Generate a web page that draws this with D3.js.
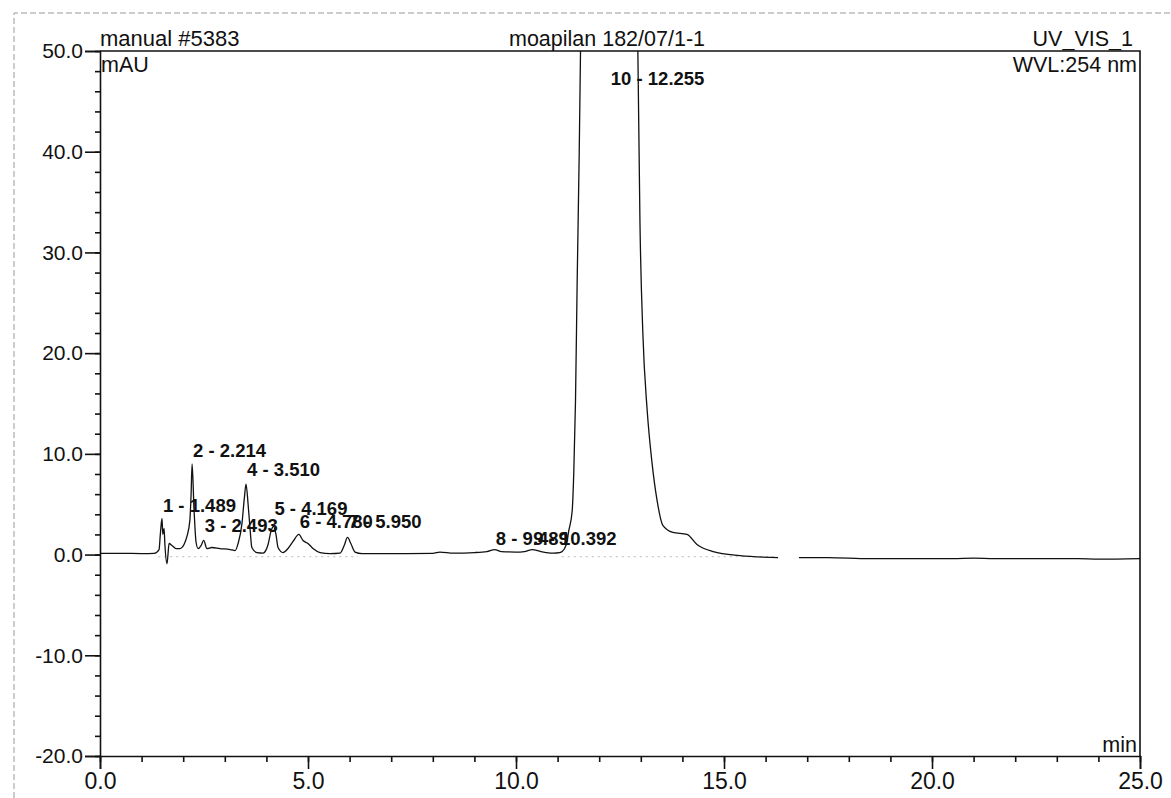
<!DOCTYPE html>
<html>
<head>
<meta charset="utf-8">
<script src="https://cdn.jsdelivr.net/npm/d3@7"></script>
<style>
  body { margin: 0; background: #fff; }
  svg { display: block; font-family: "Liberation Sans", Arial, sans-serif; }
</style>
</head>
<body>
<div id="chart"></div>
<script>
// Data
// chromatogram trace: retention time (min) and signal (mAU)
const traceTime = [
  0.0, 0.5, 1.0, 1.3, 1.42, 1.45, 1.49, 1.51, 1.54, 1.56, 1.61, 1.63, 1.66, 1.73, 1.83, 1.92,
  2.02, 2.09, 2.16, 2.19, 2.214, 2.26, 2.31, 2.36, 2.43, 2.493, 2.57, 2.69, 2.88, 3.13, 3.25,
  3.32, 3.41, 3.47, 3.51, 3.56, 3.61, 3.65, 3.77, 3.92, 4.04, 4.11, 4.169, 4.23, 4.28, 4.40,
  4.52, 4.64, 4.78, 4.88, 5.0, 5.12, 5.29, 5.53, 5.77, 5.87, 5.95, 6.03, 6.13, 6.3,
  7.0, 8.0, 8.17, 8.5, 9.0, 9.3, 9.489, 9.65, 10.0, 10.2, 10.392, 10.6, 10.9, 11.05,
  11.11, 11.2, 11.27, 11.35, 11.39, 11.43, 11.47, 11.52, 11.55, 11.62, 12.255, 12.88,
  12.93, 12.98, 13.05, 13.15, 13.27, 13.39, 13.53, 13.77, 14.11, 14.35, 14.74, 15.38, 16.3,
  16.5, 16.8, 17.5, 18.5, 20.5, 21.0, 21.5, 23.5, 24.0, 25.0
];
const traceMAU = [
  0.12, 0.12, 0.1, 0.12, 0.5, 2.0, 3.6, 2.0, 2.6, 1.0, -0.9, -0.2, 1.1, 0.9, 0.6, 0.6,
  1.0, 1.8, 3.4, 6.0, 9.0, 4.5, 1.2, 0.6, 0.9, 1.4, 0.6, 0.7, 0.6, 0.5, 0.4,
  1.1, 3.0, 5.6, 7.0, 5.0, 2.4, 0.7, 0.2, 0.15, 1.0, 2.3, 2.8, 2.0, 0.7, 0.2,
  0.6, 1.3, 2.0, 1.4, 1.1, 0.6, 0.2, 0.1, 0.15, 0.9, 1.7, 1.1, 0.25, 0.1,
  0.1, 0.12, 0.25, 0.15, 0.2, 0.3, 0.5, 0.3, 0.25, 0.3, 0.5, 0.3, 0.15, 0.2,
  0.3, 0.9, 2.4, 4.3, 8.3, 15.2, 27, 40, 49.7, 80, 260, 80,
  49.7, 32.9, 21.9, 14.5, 9.1, 5.4, 2.9, 2.2, 2.0, 1.0, 0.3, -0.1, -0.3,
  null, -0.3, -0.3, -0.4, -0.4, -0.35, -0.4, -0.4, -0.45, -0.4
];

// peak annotations
const peakNo = [1, 2, 3, 4, 5, 6, 7, 8, 9, 10];
const peakRT = ["1.489", "2.214", "2.493", "3.510", "4.169", "4.780", "5.950", "9.489", "10.392", "12.255"];
const peakLabelMAU = [4.2, 9.7, 2.25, 7.8, 3.9, 2.65, 2.65, 0.95, 0.95, 46.6];

// integration baselines (start, end in min)
const baseStart = [1.4, 3.3, 11.1];
const baseEnd = [2.6, 6.2, 16.3];

// axis ticks
const xMajor = [0, 5, 10, 15, 20, 25];
const xMinor = d3.range(0, 26, 1);
const yMajor = [-20, -10, 0, 10, 20, 30, 40, 50];
const yMinor = d3.range(-20, 52, 2);

// Set up the SVG
const W = 1171, H = 798;
const margin = { top: 51, right: 31, bottom: 42, left: 100 };
const width = W - margin.left - margin.right;
const height = H - margin.top - margin.bottom;

const svg = d3.select("#chart").append("svg")
  .attr("width", W)
  .attr("height", H);

// faint scan border
svg.append("path")
  .attr("d", `M14,${H} L14,13 L${W},13`)
  .attr("fill", "none")
  .attr("stroke", "#999")
  .attr("stroke-width", 1)
  .attr("stroke-dasharray", "6,3");

const g = svg.append("g")
  .attr("transform", `translate(${margin.left},${margin.top})`);

// Scales
const x = d3.scaleLinear().domain([0, 25]).range([0, width]);
const y = d3.scaleLinear().domain([-20, 50]).range([height, 0]);

g.append("clipPath").attr("id", "plotclip")
  .append("rect").attr("x", 0).attr("y", 0).attr("width", width).attr("height", height);

// integration baselines
g.selectAll(".ibase")
  .data(baseStart.map((s, i) => [s, baseEnd[i]]))
  .enter().append("line")
  .attr("class", "ibase")
  .attr("x1", d => x(d[0]))
  .attr("x2", d => x(d[1]))
  .attr("y1", y(-0.2))
  .attr("y2", y(-0.2))
  .attr("stroke", "#c8c8c8")
  .attr("stroke-width", 1.2)
  .attr("stroke-dasharray", "2,4");

// trace
const trace = traceTime.map((t, i) => ({ t, v: traceMAU[i] }));
const line = d3.line()
  .defined(d => d.v !== null)
  .x(d => x(d.t))
  .y(d => y(d.v))
  .curve(d3.curveMonotoneX);

g.append("path")
  .datum(trace)
  .attr("clip-path", "url(#plotclip)")
  .attr("fill", "none")
  .attr("stroke", "#111")
  .attr("stroke-width", 1.3)
  .attr("d", line);

// frame: top and right
g.append("path")
  .attr("d", `M0,0 H${width} V${height}`)
  .attr("fill", "none")
  .attr("stroke", "#111")
  .attr("stroke-width", 1.6);

// Axes (plain hyphen for negatives, like the original print)
const fmt = d => d3.format(".1f")(d).replace("\u2212", "-");
const yAxis = g.append("g")
  .call(d3.axisLeft(y).tickValues(yMajor).tickSize(15).tickPadding(2).tickFormat(fmt));
const yMinorAxis = g.append("g")
  .call(d3.axisLeft(y).tickValues(yMinor).tickSize(5).tickFormat(""));
const xAxis = g.append("g")
  .attr("transform", `translate(0,${height})`)
  .call(d3.axisBottom(x).tickValues(xMajor).tickSize(13).tickPadding(4).tickFormat(fmt));
const xMinorAxis = g.append("g")
  .attr("transform", `translate(0,${height})`)
  .call(d3.axisBottom(x).tickValues(xMinor).tickSize(6).tickFormat(""));

[yAxis, yMinorAxis, xAxis, xMinorAxis].forEach(a => {
  a.selectAll("path, line").attr("stroke", "#111").attr("stroke-width", 1.6);
  a.selectAll("text").attr("fill", "#111").style("font-family", "'Liberation Sans', Arial, sans-serif");
});
yMinorAxis.select(".domain").remove();
xMinorAxis.select(".domain").remove();
yAxis.selectAll("text").style("font-size", "21px");
xAxis.selectAll("text").style("font-size", "23px");

// peak labels
g.selectAll(".plabel")
  .data(peakNo)
  .enter().append("text")
  .attr("class", "plabel")
  .attr("x", (d, i) => x(+peakRT[i]) + 1)
  .attr("y", (d, i) => y(peakLabelMAU[i]))
  .attr("font-size", "18.5px")
  .attr("font-weight", "bold")
  .attr("fill", "#111")
  .text((d, i) => `${d} - ${peakRT[i]}`);

// header texts
const hdr = (tx, ty, anchor, str, size) => svg.append("text")
  .attr("x", tx).attr("y", ty)
  .attr("text-anchor", anchor)
  .attr("font-size", size || "21.5px")
  .attr("fill", "#111")
  .text(str);

hdr(margin.left, 46, "start", "manual #5383", "22px");
hdr(607, 46, "middle", "moapilan 182/07/1-1");
hdr(1133, 46, "end", "UV_VIS_1");
hdr(margin.left + 1, 72, "start", "mAU");
hdr(1137, 72, "end", "WVL:254 nm");
hdr(1137, 752, "end", "min");
</script>
</body>
</html>
